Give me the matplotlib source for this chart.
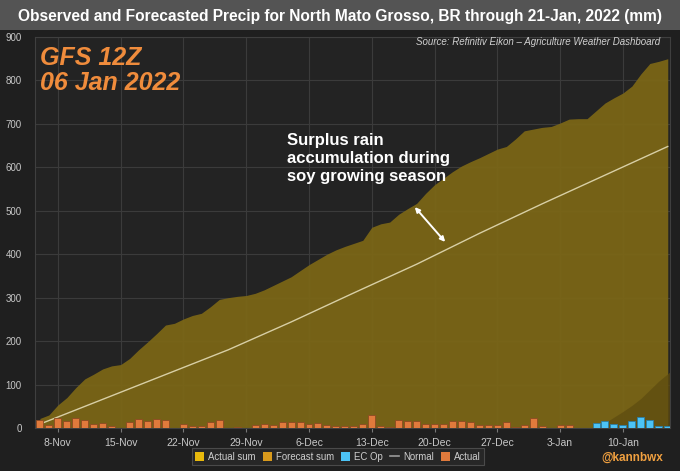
import numpy as np
import matplotlib
matplotlib.use('Agg')
import matplotlib.pyplot as plt
from matplotlib.patches import Patch, FancyArrowPatch
from matplotlib.lines import Line2D

# ---------------- data ----------------
start_date = '2021-11-06'
# cumulative "Actual sum" (mm), daily from 6-Nov-2021 to 15-Jan-2022
actual_sum = [22, 30, 53, 70, 93, 113, 124, 136, 143, 146,
              160, 180, 198, 217, 237, 241, 251, 259, 264, 279,
              296, 300, 303, 305, 310, 318, 328, 338, 348, 362,
              376, 388, 400, 410, 418, 425, 432, 462, 470, 474,
              492, 505, 517, 540, 560, 575, 590, 603, 613, 622,
              632, 642, 648, 665, 684, 688, 692, 694, 702, 711,
              712, 712, 730, 748, 760, 771, 787, 815, 839, 844, 850]
# cumulative "Forecast sum" (mm), from 6-Jan-2022 to 15-Jan-2022
forecast_start = '2022-01-06'
forecast_sum = [0, 2, 12, 25, 38, 52, 68, 88, 108, 125, 143]
# daily observed precipitation "Actual" (mm), 6-Nov-2021 .. 4-Jan-2022
actual_daily = [19, 7, 23, 15, 24, 19, 9, 11, 5, 0,
                13, 21, 15, 21, 18, 0, 10, 5, 5, 13,
                18, 0, 2, 0, 6, 9, 6, 13, 13, 13,
                9, 11, 6, 4, 4, 4, 9, 31, 5, 2,
                19, 15, 15, 9, 10, 10, 15, 15, 13, 7,
                7, 7, 13, 3, 8, 24, 4, 0, 7, 8]
# daily forecast "EC Op" (mm), 7-Jan-2022 .. 15-Jan-2022
ec_start = '2022-01-07'
ec_op = [12, 17, 9, 8, 15, 26, 19, 4, 4]
# cumulative "Normal" (mm), weekly points
normal_dates = ['2021-11-06', '2021-11-13', '2021-11-20', '2021-11-27',
                '2021-12-04', '2021-12-11', '2021-12-18', '2021-12-25',
                '2022-01-01', '2022-01-08', '2022-01-15']
normal_vals = [9, 66, 123, 180, 244, 311, 377, 448, 516, 582, 648]

tick_dates = ['2021-11-08', '2021-11-15', '2021-11-22', '2021-11-29',
              '2021-12-06', '2021-12-13', '2021-12-20', '2021-12-27',
              '2022-01-03', '2022-01-10']
tick_labels = ['8-Nov', '15-Nov', '22-Nov', '29-Nov', '6-Dec', '13-Dec',
               '20-Dec', '27-Dec', '3-Jan', '10-Jan']
y_ticks = [0, 100, 200, 300, 400, 500, 600, 700, 800, 900]

# ---------------- helpers ----------------
d0 = np.datetime64(start_date)
def day_index(d):
    return int((np.datetime64(d) - d0).astype(int))

x_sum = np.arange(len(actual_sum))
x_fc = day_index(forecast_start) + np.arange(len(forecast_sum))
x_act = np.arange(len(actual_daily))
x_ec = day_index(ec_start) + np.arange(len(ec_op))
x_norm = [day_index(d) for d in normal_dates]
x_ticks = [day_index(d) for d in tick_dates]

FONT = ['Liberation Sans', 'DejaVu Sans']
plt.rcParams['font.family'] = FONT

W, H = 680, 471
fig = plt.figure(figsize=(W / 100, H / 100), dpi=100)
fig.patch.set_facecolor('#1f1f1f')

def px(x, y):
    return (x / W, 1 - y / H)

# title band
band = plt.Rectangle((0, 1 - 30 / H), 1, 30 / H, transform=fig.transFigure,
                     facecolor='#545454', edgecolor='none', zorder=0)
fig.patches.append(band)
fig.text(*px(340, 16), 'Observed and Forecasted Precip for North Mato Grosso, BR through 21-Jan, 2022 (mm)',
         ha='center', va='center', color='white', fontsize=11.2, fontweight='bold')

left, right, top, bottom = 35, 670, 37, 428
ax = fig.add_axes([left / W, 1 - bottom / H, (right - left) / W, (bottom - top) / H])
ax.set_facecolor('#232323')

ax.set_xlim(-0.55, len(actual_sum) - 0.75)
ax.set_ylim(0, 900)
ax.set_yticks(y_ticks)
ax.set_xticks(x_ticks)
ax.set_xticklabels(tick_labels)
ax.grid(True, color='#3b3b3b', linewidth=0.8, zorder=0)
ax.set_axisbelow(True)
for s in ax.spines.values():
    s.set_color('#3f3f3f')
    s.set_linewidth(0.8)
ax.tick_params(axis='y', length=0, labelsize=7, labelcolor='#c8c8c8', pad=9.5)
ax.tick_params(axis='x', length=3, color='#777777', labelsize=7.5, labelcolor='#c8c8c8', pad=4)

# areas
ax.fill_between(x_sum, 0, actual_sum, color='#7c6716', alpha=0.93, linewidth=0, zorder=1)
ax.fill_between(x_fc, 0, forecast_sum, color='#5e4c10', alpha=0.75, linewidth=0, zorder=1.5)

# normal line
ax.plot(x_norm, normal_vals, color='#d8cfa5', linewidth=1.0, zorder=3)

# bars
ax.bar(x_act, actual_daily, width=0.78, color='#e07a3c', edgecolor='#8c4a22',
       linewidth=0.6, zorder=4)
ax.bar(x_ec, ec_op, width=0.78, color='#4cc3f5', edgecolor='#2a7ea6',
       linewidth=0.6, zorder=4)

# annotations
fig.text(*px(40, 65), 'GFS 12Z', color='#f08c3c', fontsize=18, fontweight='bold',
         fontstyle='italic', ha='left', va='baseline')
fig.text(*px(40, 90), '06 Jan 2022', color='#f08c3c', fontsize=18, fontweight='bold',
         fontstyle='italic', ha='left', va='baseline')
fig.text(*px(660, 42), 'Source: Refinitiv Eikon \u2013 Agriculture Weather Dashboard',
         color='#d0d0d0', fontsize=7, fontstyle='italic', ha='right', va='center')
fig.text(*px(287, 133), 'Surplus rain\naccumulation during\nsoy growing season',
         color='white', fontsize=12, fontweight='bold', ha='left', va='top',
         linespacing=1.25)
arrow = FancyArrowPatch(px(413, 205), px(447, 244), transform=fig.transFigure,
                        arrowstyle='<|-|>', mutation_scale=7, color='white',
                        linewidth=1.4)
fig.patches.append(arrow)

# legend
handles = [Patch(facecolor='#e8b90c', edgecolor='none', label='Actual sum'),
           Patch(facecolor='#d99a1c', edgecolor='none', label='Forecast sum'),
           Patch(facecolor='#4cc3f5', edgecolor='none', label='EC Op'),
           Line2D([0], [0], color='#9a9a9a', linewidth=1.2, label='Normal'),
           Patch(facecolor='#e07a3c', edgecolor='none', label='Actual')]
leg = fig.legend(handles=handles, loc='center', bbox_to_anchor=px(338, 456.5),
                 ncol=5, frameon=True, fontsize=6.9, labelcolor='#cfcfcf',
                 handlelength=0.9, handleheight=1.0, handletextpad=0.45,
                 columnspacing=0.75, borderpad=0.4, borderaxespad=0.2, fancybox=False)
leg.get_frame().set_facecolor('#2a2a2a')
leg.get_frame().set_edgecolor('#555555')
leg.get_frame().set_linewidth(0.8)

fig.text(*px(632, 458), '@kannbwx', color='#f0a040', fontsize=8.5, fontweight='bold',
         ha='center', va='center')

fig.savefig('out.png', dpi=100, facecolor=fig.get_facecolor())
